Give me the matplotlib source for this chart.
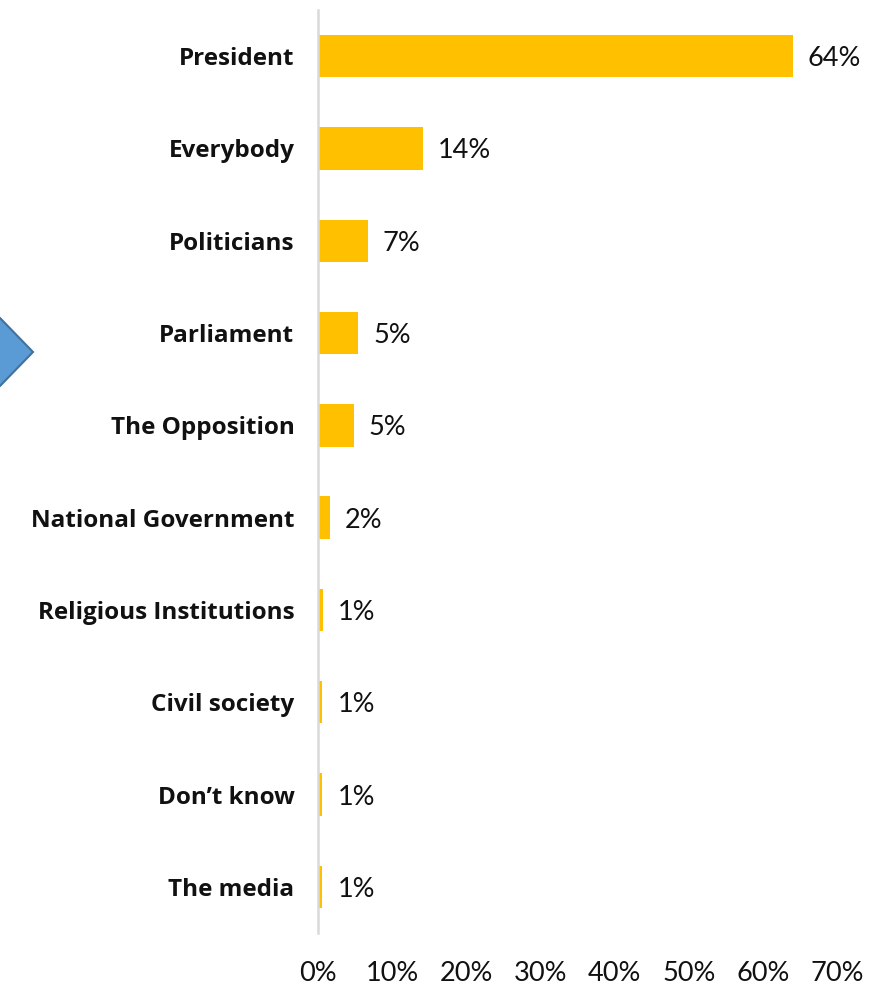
import matplotlib
matplotlib.use("Agg")
import matplotlib.pyplot as plt
from matplotlib.patches import Polygon

categories = ["President", "Everybody", "Politicians", "Parliament", "The Opposition",
              "National Government", "Religious Institutions", "Civil society",
              "Don\u2019t know", "The media"]
values = [64.0, 14.1, 6.7, 5.4, 4.8, 1.6, 0.7, 0.6, 0.6, 0.6]
value_labels = ["64%", "14%", "7%", "5%", "5%", "2%", "1%", "1%", "1%", "1%"]
ticks = [0, 10, 20, 30, 40, 50, 60, 70]
tick_labels = ["0%", "10%", "20%", "30%", "40%", "50%", "60%", "70%"]

plt.rcParams['font.family'] = ['Lato', 'DejaVu Sans']

W, H = 883, 986
fig = plt.figure(figsize=(W/100, H/100), dpi=100)
ax = fig.add_axes([318/W, 1-933/H, (837-318)/W, (933-10)/H])

ypos = list(range(len(categories)))
ax.barh(ypos, values, height=0.46, color="#FFC000", zorder=2)
ax.set_ylim(len(categories)-0.5, -0.5)
ax.set_xlim(0, 70)
ax.set_yticks(ypos)
ax.set_yticklabels(categories, fontsize=17.5, fontweight='bold', color='#111111',
                   family=['Open Sans', 'DejaVu Sans'])
ax.set_xticks(ticks)
ax.set_xticklabels(tick_labels, fontsize=19.5, color='#111111')
ax.tick_params(axis='y', length=0, pad=17)
ax.tick_params(axis='x', length=0, pad=20)
for s in ['top', 'right', 'bottom']:
    ax.spines[s].set_visible(False)
ax.spines['left'].set_color('#D9D9D9')
ax.spines['left'].set_linewidth(1.8)

for y, v, lab in zip(ypos, values, value_labels):
    ax.annotate(lab, xy=(v, y), xytext=(15, 0), textcoords='offset pixels',
                va='center_baseline', ha='left', fontsize=19.5, color='#111111')

# decorative blue arrow at left edge
pts = [(-20/W, 1-318/H), (0/W, 1-318/H), (33/W, 1-352/H), (0/W, 1-386/H), (-20/W, 1-386/H)]
arrow = Polygon(pts, closed=True, transform=fig.transFigure, facecolor='#5B9BD5',
                edgecolor='#41719C', linewidth=1.5, clip_on=False)
fig.patches.append(arrow)

fig.savefig("out.png", dpi=100)
